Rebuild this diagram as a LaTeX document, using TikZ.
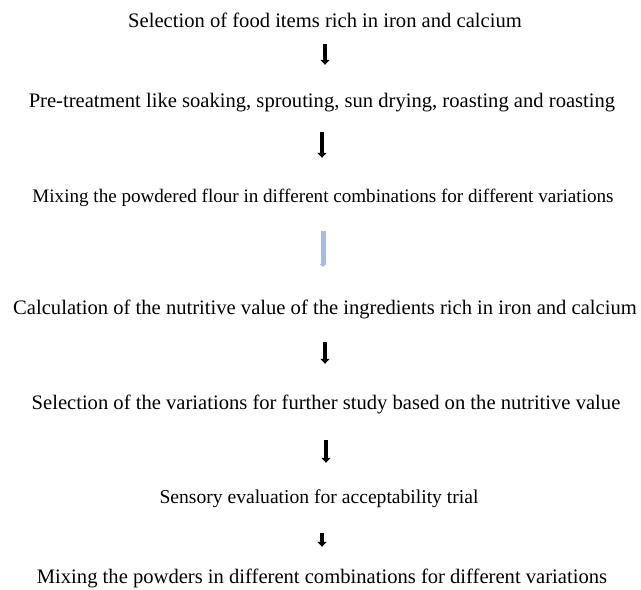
\documentclass[tikz,border=0pt]{standalone}
\usepackage{fontspec}
\setmainfont{Liberation Serif}
\usetikzlibrary{arrows.meta}

\tikzset{
	stage/.style={inner sep=0pt, text height=14pt, text depth=4pt, font=\fontsize{20.6}{23}\selectfont},
	small stage/.style={stage, font=\fontsize{#1}{22}\selectfont},
	flow/.style={line width=4pt, -{Triangle[width=9pt,length=5pt]}},
	faint/.style={line width=5pt, draw={rgb,255:red,168;green,188;blue,225}, -{Triangle[width=7pt,length=3pt]}}
}

\begin{document}
\begin{tikzpicture}[x=1pt, y=-1pt]
		\useasboundingbox (0, 0) rectangle (641, 590);

		\node[stage] (sel)  at (325, 22)  {Selection of food items rich in iron and calcium};
		\node[stage] (pre)  at (322, 102) {Pre-treatment like soaking, sprouting, sun drying, roasting and roasting};
		\node[small stage=19.1] (mix)  at (323, 197) {Mixing the powdered flour in different combinations for different variations};
		\node[stage] (calc) at (325, 309) {Calculation of the nutritive value of the ingredients rich in iron and calcium};
		\node[stage] (var)  at (326, 404) {Selection of the variations for further study based on the nutritive value};
		\node[small stage=19.6] (sens) at (319, 498) {Sensory evaluation for acceptability trial};
		\node[stage] (pow)  at (322, 578) {Mixing the powders in different combinations for different variations};

		\draw[flow, shorten <=13pt, shorten >=28pt] (sel.south) -- (sel.south |- pre.north);
		\draw[flow, shorten <=21pt, shorten >=30pt] (pre.south) -- (pre.south |- mix.north);
		\draw[faint, shorten <=25pt, shorten >=33pt] (mix.south) -- (mix.south |- calc.north);
		\draw[flow, shorten <=24pt, shorten >=31pt] (calc.south) -- (calc.south |- var.north);
		\draw[flow, shorten <=27pt, shorten >=26pt] (var.south) -- (var.south |- sens.north);
		\draw[flow, shorten <=26pt, shorten >=22pt] (sens.south -| pow.north) -- (pow.north);
	\end{tikzpicture}
\end{document}
